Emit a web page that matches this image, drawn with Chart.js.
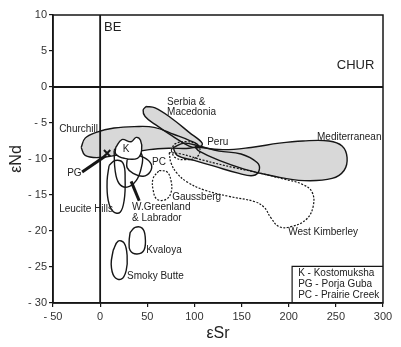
<!DOCTYPE html>
<html>
<head>
<meta charset="utf-8">
<script src="https://cdn.jsdelivr.net/npm/chart.js@4.4.0/dist/chart.umd.min.js"></script>
<style>
    html, body { margin: 0; padding: 0; background: #fff; }
</style>
</head>
<body>
<canvas id="srNdChart" width="401" height="347"></canvas>
<script>
// axis ticks
const epsSrTicks = [-50, 0, 50, 100, 150, 200, 250, 300];
const epsNdTicks = [10, 5, 0, -5, -10, -15, -20, -25, -30];

// field outlines, [εSr, εNd]
const churchill = [[-20.1, -8.4], [-15.9, -7.1], [-4.2, -6.3], [14.8, -5.7], [36.1, -5.5], [57.3, -5.6], [78.5, -6.6], [94.4, -7.4], [103.9, -8.1], [94.4, -8.5], [73.2, -8.5], [52.0, -8.7], [25.5, -9.3], [-1.1, -9.8], [-15.9, -9.5]];
const serbiaMacedonia = [[48.8, -2.7], [58.3, -2.9], [75.3, -4.3], [94.4, -6.3], [108.2, -7.8], [105, -8.4], [94.4, -8.2], [76.4, -6.8], [58.3, -5.2], [47.7, -4.1], [45.6, -3.2]];
const peru = [[77.4, -8.4], [89.1, -7.8], [105.0, -8.2], [126.2, -8.9], [149.5, -9.3], [166.5, -10.5], [168.6, -11.6], [162.2, -12.3], [147.4, -12.0], [120.9, -11.0], [99.7, -10.2], [81.7, -9.5]];
const mediterranean = [[100.5, -8.3], [130.0, -8.7], [160.0, -8.4], [190.0, -7.8], [215.0, -7.5], [242.8, -7.5], [256.6, -8.2], [261.9, -9.8], [258.7, -11.6], [246.0, -12.7], [216.3, -13.0], [184.5, -12.4], [152.7, -11.4], [126.2, -10.2], [105.0, -8.9]];
const smallDashed = [[75.3, -8.8], [79.5, -7.9], [90.1, -7.6], [101.8, -7.9], [106, -8.8], [101.8, -9.8], [90.1, -10.1], [79.5, -9.8]];
const westKimberley = [[73.2, -9.1], [75.3, -10.6], [81.7, -12.0], [92.3, -13.2], [110.3, -14.3], [136.8, -15.2], [163.3, -15.9], [173.9, -16.7], [181.3, -18.2], [189.8, -19.4], [202.5, -19.4], [218.5, -18.4], [225.9, -16.6], [224.8, -14.6], [214.2, -13.5], [195.1, -12.8], [170.7, -12.0], [142.1, -11.2], [110.3, -10.2], [85.9, -9.3]];
const gaussberg = [[62.6, -11.6], [71.0, -11.8], [75.3, -13.1], [75.3, -14.6], [70.0, -15.6], [60.4, -15.6], [56.2, -14.3], [56.2, -12.7]];
const kostomuksha = [[16.5, -8.4], [23.0, -7.3], [32.9, -7.6], [38.2, -7.0], [42.8, -7.4], [44.0, -8.8], [39.5, -9.9], [25.5, -9.9], [16.5, -9.3]];
const prairieCreek = [[28.6, -10.1], [36.1, -9.5], [46.7, -9.8], [54.1, -10.7], [53.0, -11.8], [45.6, -12.4], [35.0, -12.0], [28.6, -11.2]];
const wGreenland = [[14.8, -8.8], [20.1, -8.1], [36.1, -8.4], [44.5, -9.5], [43.5, -11.3], [38.2, -13.0], [28.6, -13.9], [20.1, -13.4], [15.9, -11.6]];
const leuciteHills = [[9.5, -10.9], [15.9, -10.2], [24.4, -10.6], [26.5, -12.9], [25.5, -15.7], [21.2, -17.4], [13.8, -17.3], [8.5, -15.7], [7.4, -13.0]];
const kvaloya = [[31.8, -20.2], [37.1, -19.5], [44.5, -19.6], [47.7, -20.7], [46.7, -22.6], [39.2, -23.2], [31.8, -22.7], [30.8, -21.4]];
const smokyButte = [[13.8, -22.7], [19.1, -21.4], [25.5, -21.7], [28.6, -23.4], [27.6, -25.5], [22.3, -26.7], [14.8, -26.3], [11.7, -24.6]];

// reference lines, arrows, key box
const beLine = [[0, -30], [0, 10]];
const churLine = [[-50, 0], [300, 0]];
const pgArrow = [[-19.1, -11.8], [6.4, -9.5]];
const pgPoint = [[7.4, -9.2]];
const wglArrow = [[41.4, -15.8], [32.9, -13.1]];
const keyBox = [[203.6, -30], [203.6, -24.9], [300, -24.9]];

// text placed at [εSr, εNd]
const fieldLabels = [
    { text: 'BE', x: 4.2, y: 8.3, size: 13 },
    { text: 'CHUR', x: 251, y: 3.0, size: 13 },
    { text: 'Churchill', x: -43.5, y: -5.9 },
    { text: 'Serbia &', x: 71, y: -2.1 },
    { text: 'Macedonia', x: 71, y: -3.5 },
    { text: 'Peru', x: 113.5, y: -7.7 },
    { text: 'Mediterranean', x: 230, y: -7.0 },
    { text: 'K', x: 24, y: -8.7 },
    { text: 'PC', x: 55, y: -10.5 },
    { text: 'PG', x: -35, y: -12.0 },
    { text: 'Gaussberg', x: 76.4, y: -15.3 },
    { text: 'West Kimberley', x: 199.4, y: -20.2 },
    { text: 'Leucite Hills', x: -43.5, y: -17.0 },
    { text: 'W.Greenland', x: 33.9, y: -16.7 },
    { text: '& Labrador', x: 33.9, y: -18.2 },
    { text: 'Kvaloya', x: 48.8, y: -22.7 },
    { text: 'Smoky Butte', x: 28.6, y: -26.3 },
    { text: 'K - Kostomuksha', x: 210, y: -25.9 },
    { text: 'PG - Porja Guba', x: 210, y: -27.4 },
    { text: 'PC - Prairie Creek', x: 210, y: -28.9 }
];

const FONT = '"Liberation Sans", Arial, sans-serif';
const INK = '#161616';
const GREY = '#d8d8d8';

function toPoints(pts, close) {
    const out = pts.map(p => ({ x: p[0], y: p[1] }));
    if (close) out.push({ x: pts[0][0], y: pts[0][1] });
    return out;
}

function field(pts, extra) {
    return Object.assign({
        data: toPoints(pts, true),
        borderColor: INK,
        borderWidth: 1.4,
        backgroundColor: GREY,
        pointRadius: 0,
        tension: 0.4,
        fill: false
    }, extra);
}

// grey area only, outline comes from a separate dataset drawn above
function greyArea(pts) {
    return field(pts, { borderWidth: 0, borderColor: 'rgba(0,0,0,0)', fill: 'shape' });
}

function straight(pts, width) {
    return {
        data: toPoints(pts, false),
        borderColor: INK,
        borderWidth: width,
        pointRadius: 0,
        tension: 0,
        fill: false
    };
}

const labelPlugin = {
    id: 'fieldLabels',
    afterDatasetsDraw(chart) {
        const { ctx, scales: { x, y } } = chart;
        ctx.save();
        ctx.fillStyle = '#222';
        ctx.textBaseline = 'middle';
        ctx.textAlign = 'left';
        fieldLabels.forEach(l => {
            ctx.font = (l.size || 10) + 'px ' + FONT;
            ctx.fillText(l.text, x.getPixelForValue(l.x), y.getPixelForValue(l.y));
        });
        ctx.restore();
    }
};

const framePlugin = {
    id: 'frame',
    afterDatasetsDraw(chart) {
        const { ctx, chartArea: a } = chart;
        ctx.save();
        ctx.strokeStyle = INK;
        ctx.lineWidth = 1.5;
        ctx.strokeRect(a.left, a.top, a.right - a.left, a.bottom - a.top);
        ctx.restore();
    }
};

function fmtTick(v) {
    return v < 0 ? '- ' + Math.abs(v) : String(v);
}

document.addEventListener('DOMContentLoaded', function() {
    Chart.defaults.font.family = FONT;

    // lower index is drawn on top
    const datasets = [
        straight(pgArrow, 3),
        straight(wglArrow, 3),
        {
            data: toPoints(pgPoint, false),
            showLine: false,
            pointStyle: 'crossRot',
            pointRadius: 4.5,
            borderWidth: 2,
            borderColor: INK
        },
        straight(beLine, 1.8),
        straight(churLine, 1.8),
        straight(keyBox, 1.2),
        field(kostomuksha, { backgroundColor: '#fff', fill: 'shape' }),
        field(wGreenland),
        field(prairieCreek),
        field(leuciteHills),
        field(kvaloya),
        field(smokyButte),
        field(gaussberg, { borderDash: [2, 1.5], borderWidth: 1.2 }),
        field(smallDashed, { borderDash: [2, 1.5], borderWidth: 1.2 }),
        field(westKimberley, { borderDash: [2, 1.5], borderWidth: 1.2 }),
        field(peru),
        field(serbiaMacedonia),
        field(mediterranean),
        field(churchill),
        greyArea(peru),
        greyArea(serbiaMacedonia),
        greyArea(mediterranean),
        greyArea(churchill)
    ];

    new Chart(document.getElementById('srNdChart'), {
        type: 'line',
        data: { datasets: datasets },
        options: {
            responsive: false,
            animation: false,
            layout: { padding: { top: 15, right: 18, left: 0, bottom: 0 } },
            plugins: {
                legend: { display: false },
                tooltip: { enabled: false }
            },
            scales: {
                x: {
                    type: 'linear',
                    min: -50,
                    max: 300,
                    afterBuildTicks: s => { s.ticks = epsSrTicks.map(v => ({ value: v })); },
                    afterFit: s => { s.height = 44; },
                    grid: { drawOnChartArea: false, tickLength: 4, color: INK, lineWidth: 1.2 },
                    border: { display: true, color: INK, width: 1.5 },
                    ticks: { callback: fmtTick, color: '#333', padding: 3, maxRotation: 0, font: { size: 11 } },
                    title: { display: true, text: 'εSr', color: '#222', font: { size: 16 }, padding: { top: 0, bottom: 4 } }
                },
                y: {
                    type: 'linear',
                    min: -30,
                    max: 10,
                    afterBuildTicks: s => { s.ticks = epsNdTicks.map(v => ({ value: v })); },
                    afterFit: s => { s.width = 53; },
                    grid: { drawOnChartArea: false, tickLength: 4, color: INK, lineWidth: 1.2 },
                    border: { display: true, color: INK, width: 1.5 },
                    ticks: { callback: fmtTick, color: '#333', padding: 2, font: { size: 11 } },
                    title: { display: true, text: 'εNd', color: '#222', font: { size: 16 }, padding: { top: 7, bottom: 0 } }
                }
            }
        },
        plugins: [labelPlugin, framePlugin]
    });
});
</script>
</body>
</html>
